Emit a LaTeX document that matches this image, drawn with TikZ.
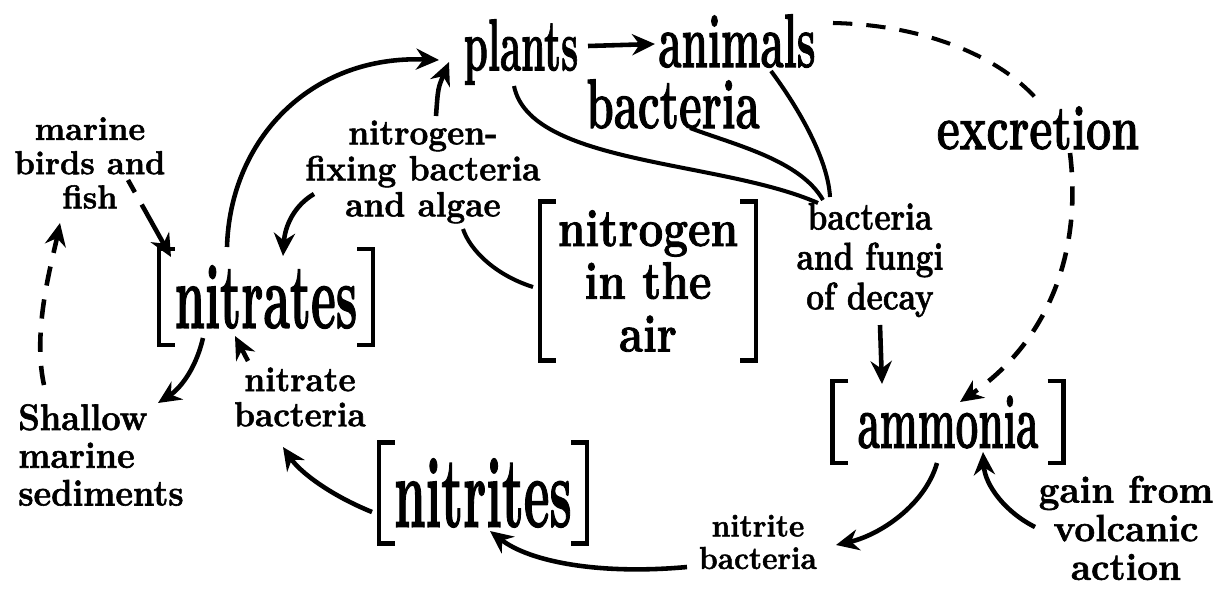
\documentclass[tikz,border=0pt]{standalone}
\usepackage{fontspec}
\setmainfont{Latin Modern Roman}[BoldFeatures={FakeBold=1.6}]
\usepackage{tikz}
\usepackage{graphicx}
\usetikzlibrary{arrows.meta,calc}
\newcommand\vfac{1}
\newcommand\tall[1]{\scalebox{1}[\vfac]{#1}}
\tikzset{
  word/.style n args={3}{inner sep=0pt, align=center,
    font={\fontsize{#1}{#2}\selectfont\bfseries\lineskiplimit-50pt\relax\renewcommand\vfac{#3}}},
  flow/.style={line width=2.6pt, -{Stealth[length=13pt,width=12pt]}},
  dashflow/.style={flow, dash pattern=on 11pt off 8pt},
  link/.style={line width=2.3pt},
  dashlink/.style={link, dash pattern=on 11pt off 8pt},
  bracket/.style={line width=2.6pt},
}

\begin{document}
\begin{tikzpicture}[x=0.02cm, y=-0.02cm]
  \useasboundingbox (0,0) rectangle (1227,595);

  % words
  \node[word={22}{24}{1.9}] (plants) at (521,52) {\tall{plants}};
  \node[word={24}{26}{1.8}] (animals) at (737,41) {\tall{animals}};
  \node[word={25}{26}{1.6}] (bact) at (673,104) {\tall{bacteria}};
  \node[word={25.5}{26}{1.4}] (excr) at (1038,128) {\tall{excretion}};
  \node[word={18.5}{19.5}{1.02}] (birds) at (90,163) {\tall{marine}\\\tall{birds and}\\\tall{fish}};
  \node[word={19}{20.5}{1.05}] (fixing) at (423,172) {\tall{nitrogen-}\\\tall{fixing bacteria}\\\tall{and algae}};
  \node[word={18}{22.7}{1.22}] (decay) at (870,260) {\tall{bacteria}\\\tall{and fungi}\\\tall{of decay}};
  \node[word={19.5}{21.5}{1.08}, align=left] (shallow) at (101,455) {\tall{Shallow}\\\tall{marine}\\\tall{sediments}};
  \node[word={19}{20}{1.04}] (natb) at (300,397) {\tall{nitrate}\\\tall{bacteria}};
  \node[word={17}{18.5}{1.06}] (nitb) at (758,542) {\tall{nitrite}\\\tall{bacteria}};
  \node[word={21}{22}{1.03}] (gain) at (1126,528) {\tall{gain from}\\\tall{volcanic}\\\tall{action}};

  % pools in brackets
  \node[word={27.5}{28}{1.9}, minimum width=4.26cm, minimum height=1.9cm] (nitrates) at (266,297) {\tall{nitrates}};
  \node[word={25}{30}{1.2}, minimum width=4.3cm, minimum height=3.16cm] (air) at (648,281) {\tall{nitrogen}\\\tall{in the}\\\tall{air}};
  \node[word={28.5}{29}{2.0}, minimum width=4.14cm, minimum height=2cm] (nitrites) at (483,493) {\tall{nitrites}};
  \node[word={23}{24}{1.9}, minimum width=4.6cm, minimum height=1.62cm] (ammonia) at (948,422) {\tall{ammonia}};

  \foreach \n in {nitrates,air,nitrites,ammonia} {
    \draw[bracket] ([xshift=9pt]\n.north west) -- (\n.north west) -- (\n.south west) -- ([xshift=9pt]\n.south west);
    \draw[bracket] ([xshift=-9pt]\n.north east) -- (\n.north east) -- (\n.south east) -- ([xshift=-9pt]\n.south east);
  }

  % upper part of the cycle
  \draw[flow] ($(nitrates)+(-39,-50)$) .. controls (230,140) and (310,55) .. ($(plants)+(-82,8)$);
  \draw[flow] ($(fixing)+(13,-56)$) .. controls (438,88) .. ($(plants)+(-72,10)$);
  \draw[flow] ($(fixing)+(-109,22)$) .. controls (295,205) and (285,225) .. ($(nitrates)+(17,-41)$);
  \draw[link] ($(air)+(-115,6)$) .. controls (495,275) and (470,250) .. ($(fixing)+(40,57)$);
  \draw[flow] ($(plants)+(67,-6)$) -- ($(animals)+(-82,3)$);
  \draw[link] ($(plants)+(-7,34)$) .. controls (530,165) and (720,160) .. ($(decay)+(-52,-57)$);
  \draw[link] ($(bact)+(17,24)$) .. controls (735,145) and (800,160) .. ($(decay)+(-47,-60)$);
  \draw[link] ($(animals)+(34,30)$) .. controls (800,110) and (828,160) .. ($(decay)+(-40,-63)$);
  \draw[dashlink] ($(animals)+(96,-18)$) .. controls (930,25) and (1005,60) .. ($(excr)+(2,-25)$);
  \draw[dashflow] ($(excr)+(32,25)$) .. controls (1082,250) and (1050,340) .. ($(ammonia)+(12,-20)$);
  \draw[flow] ($(decay)+(10,65)$) -- ($(ammonia)+(-66,-38)$);

  % lower part of the cycle
  \draw[flow] ($(ammonia)+(-11,41)$) .. controls (925,505) and (880,535) .. ($(nitb)+(78,3)$);
  \draw[flow] ($(gain)+(-91,-1)$) .. controls (1005,512) and (985,485) .. ($(ammonia)+(35,30)$);
  \draw[flow] ($(nitb)+(-71,25)$) .. controls (600,575) and (530,562) .. ($(nitrites)+(7,38)$);
  \draw[flow] ($(nitrites)+(-111,19)$) .. controls (330,495) and (300,472) .. ($(natb)+(-17,50)$);
  \draw[flow] ($(natb)+(-52,-36)$) -- ($(nitrates)+(-31,39)$);

  % marine side loop
  \draw[flow, dash pattern=on 8pt off 8pt on 60pt] ($(birds)+(38,17)$) -- ($(nitrates)+(-95,-40)$);
  \draw[flow] ($(nitrates)+(-63,41)$) .. controls (195,372) and (178,390) .. ($(shallow)+(57,-52)$);
  \draw[dashflow] ($(shallow)+(-57,-70)$) .. controls (32,330) and (52,262) .. ($(birds)+(-30,60)$);
\end{tikzpicture}
\end{document}
